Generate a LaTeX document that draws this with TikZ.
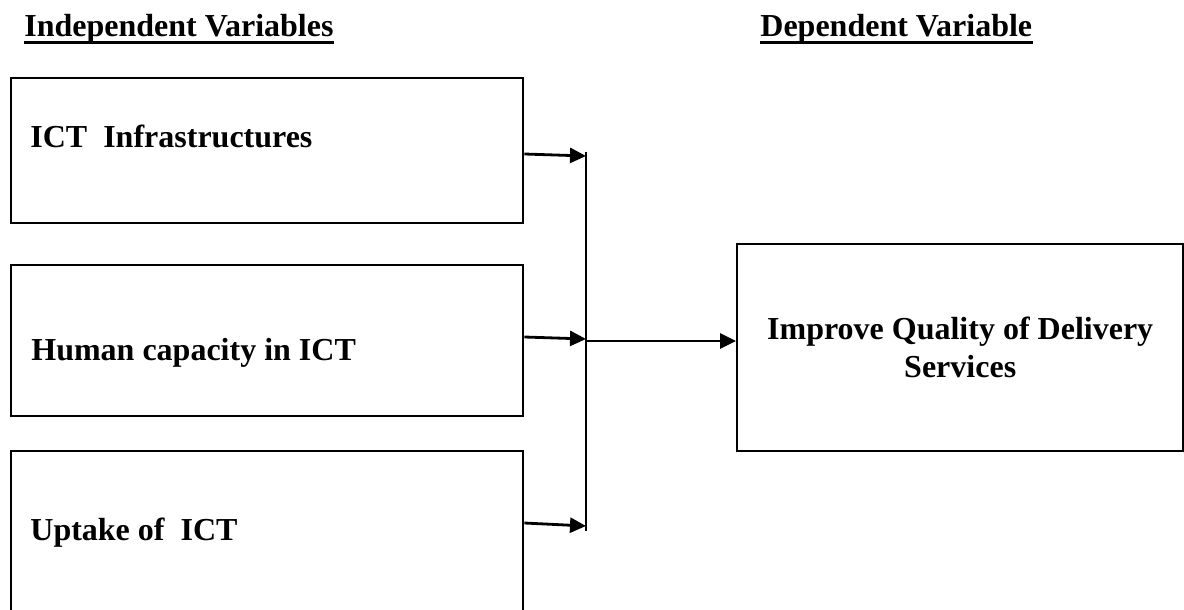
\documentclass[tikz,border=0pt]{standalone}
\usepackage{fontspec}
\setmainfont{Liberation Serif}
\usetikzlibrary{arrows.meta}
\begin{document}
\begin{tikzpicture}[x=0.5pt,y=-0.5pt,
  box/.style={draw, line width=1.2pt, inner sep=0pt, anchor=north west},
  lbl/.style={anchor=base west, inner sep=0pt, font=\fontsize{16}{19}\selectfont\bfseries},
  conn/.style={line width=1.4pt, -{Triangle[length=8pt,width=7.5pt]}},
  uline/.style={line width=1.4pt}
  ]
\useasboundingbox (0,0) rectangle (1184,610);

% column headings
\node[lbl] (hind) at (24,37) {Independent Variables};
\node[lbl] (hdep) at (760,37) {Dependent Variable};
\draw[uline] ([yshift=-2.6pt]hind.base west) -- ([yshift=-2.6pt]hind.base east);
\draw[uline] ([yshift=-2.6pt]hdep.base west) -- ([yshift=-2.6pt]hdep.base east);

% independent variable boxes
\node[box, minimum width=256pt, minimum height=72.5pt] (b1) at (10,77) {};
\node[box, minimum width=256pt, minimum height=75.5pt] (b2) at (10,264) {};
\node[box, minimum width=256pt, minimum height=86pt] (b3) at (10,450) {};
\node[lbl] (t1) at (30,148) {ICT\ \ Infrastructures};
\node[lbl] (t2) at (31,360) {Human capacity in ICT};
\node[lbl] (t3) at (30,540) {Uptake of\ \ ICT};

% dependent variable box
\node[box, minimum width=223pt, minimum height=103.5pt, align=center,
      font=\fontsize{16}{19}\selectfont\bfseries] (dep) at (736,243)
      {Improve Quality of Delivery\\Services};

% connectors
\coordinate (e1) at (b1.east |- 0,154);
\coordinate (e2) at (b2.east |- 0,337);
\coordinate (e3) at (b3.east |- 0,523);
\coordinate (v1) at (586,156);
\coordinate (v2) at (586,339);
\coordinate (v3) at (586,526);
\coordinate (vtop) at (586,152);
\coordinate (vbot) at (586,531);
\coordinate (m) at (586,341);

\draw[uline] (vtop) -- (vbot);
\draw[conn] (e1) -- (v1);
\draw[conn] (e2) -- (v2);
\draw[conn] (e3) -- (v3);
\draw[conn] (m) -- (dep.west |- m);
\end{tikzpicture}
\end{document}
